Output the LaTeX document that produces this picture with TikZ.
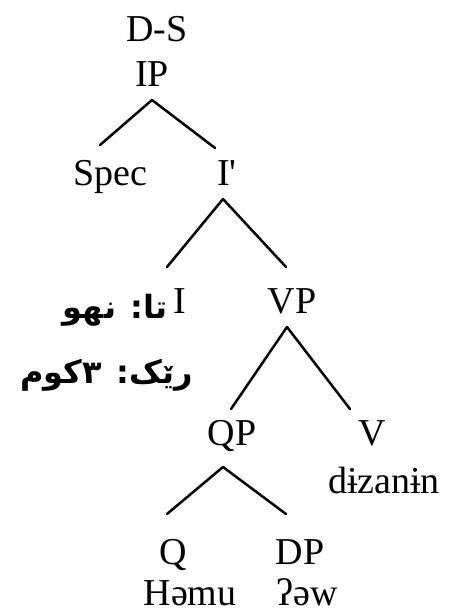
\documentclass[tikz,border=0pt]{standalone}
\usepackage{fontspec}
\setmainfont{Liberation Serif}
\newfontfamily\arabicfont[Script=Arabic]{DejaVu Sans}
\TeXXeTstate=1
\usetikzlibrary{positioning}

\begin{document}
\begin{tikzpicture}[
    x=1pt, y=-1pt,
    cat/.style={font=\fontsize{38}{40}\selectfont, inner sep=0pt, outer ysep=6pt, text height=27pt, text depth=8pt, anchor=base},
    word/.style={cat, outer ysep=0pt, text depth=0pt},
    kurd/.style={font=\arabicfont\bfseries\fontsize{32}{34}\selectfont, inner sep=0pt, anchor=base east},
    branch/.style={line width=2.5pt, line cap=round}
]
\useasboundingbox (0,0) rectangle (448,610);

% categories
\node[cat] (ds) at (157,42) {D-S};
\node[cat] (ip) at (152,86) {IP};
\node[cat] (spec) at (110,185) {Spec};
\node[cat] (ibar) at (227,185) {I\textquotesingle};
\node[cat] (infl) at (180,313) {I};
\node[cat] (vp) at (292,313) {VP};
\node[cat] (qp) at (232,445) {QP};
\node[cat] (verb) at (372,445) {V};
\node[cat] (quant) at (173,564) {Q};
\node[cat] (dp) at (300,564) {DP};

% words
\node[word] (dizanin) at (384,493) {dɨzanɨn};
\node[word] (hemu) at (190,605) {Həmu};
\node[word] (ew) at (307,605) {ʔəw};
\node[kurd] (tense) at (168,318) {\beginR تا: نهو\endR};
\node[kurd] (agr) at (193,383) {\beginR رێک: ٣کوم\endR};

% branches
\draw[branch] (ip.south) -- ([xshift=-10pt,yshift=7pt]spec.north);
\draw[branch] (ip.south) -- ([xshift=-12pt,yshift=4pt]ibar.north);
\draw[branch] ([xshift=-4pt]ibar.south) -- ([xshift=-13pt,yshift=13pt]infl.north);
\draw[branch] ([xshift=-4pt]ibar.south) -- ([xshift=-6pt,yshift=13pt]vp.north);
\draw[branch] ([xshift=-5pt]vp.south) -- ([xshift=-1pt,yshift=3pt]qp.north);
\draw[branch] ([xshift=-5pt]vp.south) -- ([xshift=-22pt,yshift=3pt]verb.north);
\draw[branch] ([xshift=-9pt,yshift=-8pt]qp.south) -- ([xshift=-6pt,yshift=17pt]quant.north);
\draw[branch] ([xshift=-9pt,yshift=-8pt]qp.south) -- ([xshift=-14pt,yshift=17pt]dp.north);
\end{tikzpicture}
\end{document}
